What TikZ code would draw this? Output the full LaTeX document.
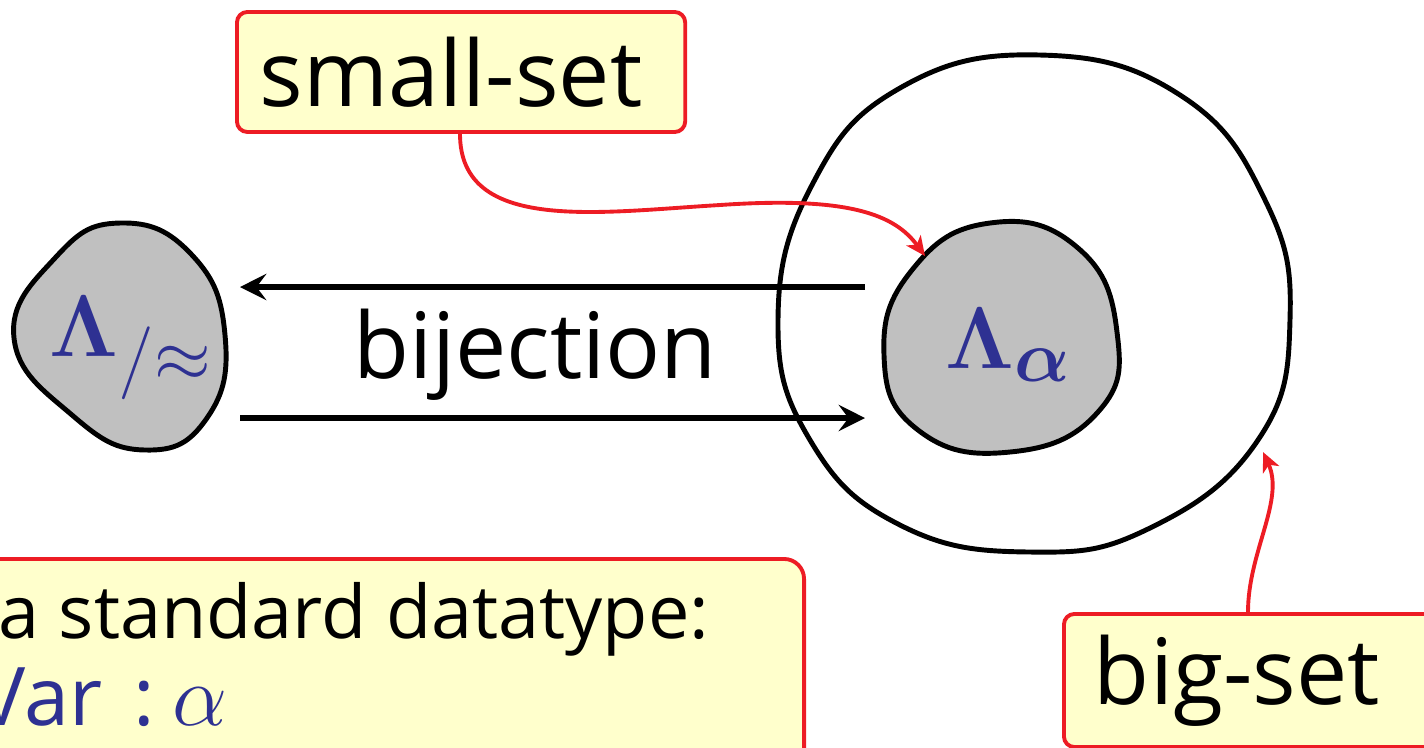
\documentclass[tikz,border=0pt]{standalone}
\usepackage{amsmath,amssymb,bm}
\usepackage[no-math]{fontspec}
\setmainfont{Open Sans}
\usepackage{tikz}
\usetikzlibrary{arrows.meta,positioning}
\definecolor{callred}{HTML}{ED1C24}
\definecolor{callfill}{HTML}{FFFFCC}
\definecolor{mathblue}{HTML}{2E3192}
\definecolor{setgray}{HTML}{C0C0C0}

\begin{document}
\begin{tikzpicture}[x=0.01cm,y=-0.01cm,
        blob/.style={draw=black,fill=setgray,line width=1.4pt},
        callout/.style={rectangle,draw=callred,fill=callfill,line width=1.1pt,
                        rounded corners=3pt,align=left,inner ysep=0pt},
        lbl/.style={font=\fontsize{26}{31}\selectfont,inner sep=0pt},
        smalllbl/.style={font=\fontsize{21}{25}\selectfont,inner sep=0pt},
        setname/.style={text=mathblue,font=\fontsize{29}{34}\selectfont,inner sep=0pt},
        arr/.style={-{Stealth[length=7.5pt,width=7.5pt,inset=2.8pt]},line width=1.7pt},
        pointer/.style={-{Stealth[length=5.5pt,width=5pt,inset=1.5pt]},callred,line width=1.1pt}]
        \useasboundingbox (0,0) rectangle (1424,747);
        \clip (0,0) rectangle (1424,747);
        % the two sets
        \draw[line width=1.4pt] plot[smooth cycle,tension=0.75] coordinates
          {(778,320) (812,185) (900,88) (1040,55) (1180,95) (1265,200)
           (1290,320) (1258,440) (1150,528) (1030,552) (900,525) (810,440)};
        \draw[blob] plot[smooth cycle,tension=0.8] coordinates
          {(884,355) (912,270) (990,223) (1078,248) (1117,332)
           (1098,412) (1010,452) (918,430)};
        \draw[blob] plot[smooth cycle,tension=0.8] coordinates
          {(14,338) (55,258) (120,223) (192,255) (225,335)
           (207,418) (145,450) (72,415)};
        \node[setname] (quot) at (131,348) {$\bm{\Lambda}_{/\approx}$};
        \node[setname] (alpha) at (1009,345) {$\bm{\Lambda_{\alpha}}$};
        % bijection arrows
        \coordinate (lt) at (240,287);
        \coordinate (rt) at (865,287);
        \coordinate (lb) at (240,418);
        \coordinate (rb) at (865,418);
        \draw[arr] (rt)--(lt);
        \draw[arr] (lb)--(rb);
        \node[lbl] (bij) at (535,355) {bijection};
        % callouts
        \node[callout,anchor=north west,minimum width=4.48cm,minimum height=1.2cm,
              text width=4.02cm,inner xsep=0.23cm,lbl] (small) at (235,10) {small-set};
        \node[callout,anchor=north west,minimum width=4.2cm,minimum height=1.33cm,
              text width=3.6cm,inner xsep=0.28cm,lbl] (big) at (1062,612) {big-set};
        \node[callout,anchor=north east,minimum width=9cm,minimum height=2.6cm,
              rounded corners=0.2cm] (note) at (806,557) {};
        \node[smalllbl,anchor=base west] (noteA) at (-2,638) {a standard datatype:};
        \node[smalllbl,anchor=base west,text=mathblue] (noteB) at (-23,725)
              {\fontsize{23}{27}\selectfont Var\hspace{9pt}:\hspace{5pt}$\alpha$};
        \coordinate (alpharim) at (925,256);
        \coordinate (bigrim) at (1263,452);
        \draw[pointer] (small.south west) ++(225,0) .. controls +(0,100) and (600,212) .. (720,205)
              .. controls (850,196) and (895,215) .. (alpharim);
        \draw[pointer] (big.north west) ++(186,0) .. controls +(0,-60) and (1285,500) .. (bigrim);
      \end{tikzpicture}
\end{document}
